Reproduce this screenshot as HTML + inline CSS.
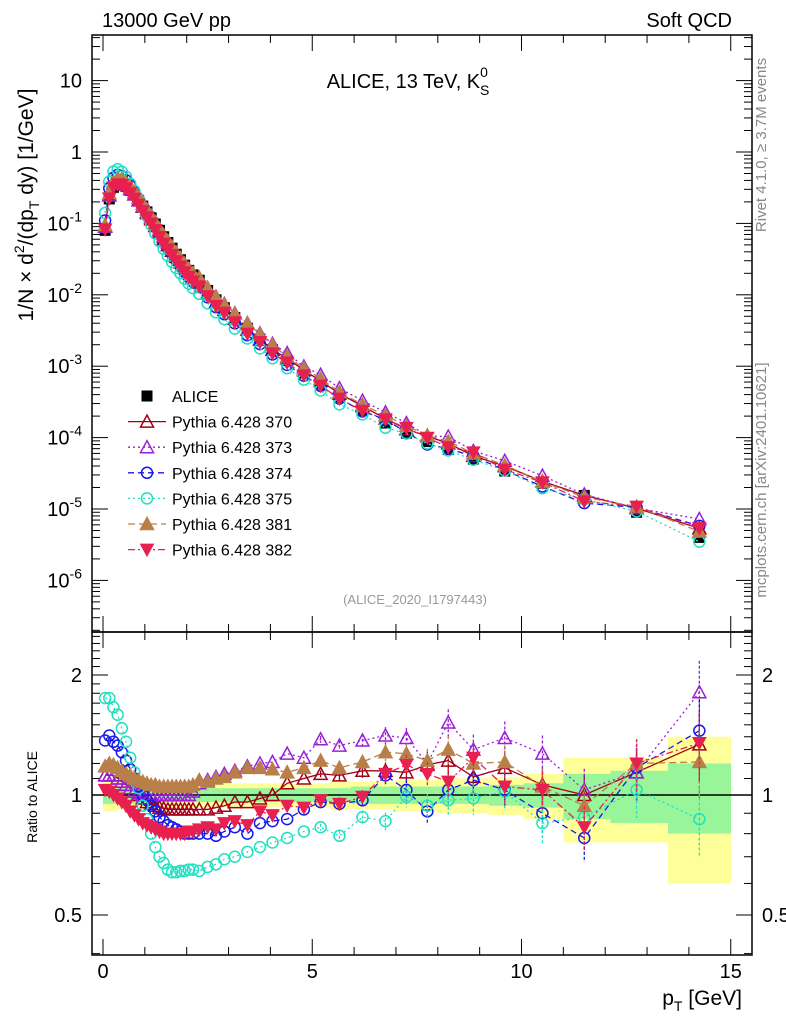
<!DOCTYPE html>
<html><head><meta charset="utf-8"><style>
body{margin:0;background:#fff;}
svg{display:block;font-family:"Liberation Sans",sans-serif;}
</style></head><body>
<svg id="c" width="786" height="1024" xmlns="http://www.w3.org/2000/svg">
<text x="102" y="27" font-size="20">13000 GeV pp</text>
<text x="732" y="27" font-size="20" text-anchor="end">Soft QCD</text>
<text x="408" y="88" font-size="20" text-anchor="middle">ALICE, 13 TeV, K<tspan font-size="14" dy="-11">0</tspan><tspan font-size="14" dx="-8" dy="18">S</tspan></text>
<text transform="translate(766,145) rotate(-90)" font-size="15" fill="#888" text-anchor="middle">Rivet 4.1.0, ≥ 3.7M events</text>
<text transform="translate(766,480) rotate(-90)" font-size="15" fill="#888" text-anchor="middle">mcplots.cern.ch [arXiv:2401.10621]</text>
<text x="415" y="604" font-size="13" fill="#999" text-anchor="middle">(ALICE_2020_I1797443)</text>
<text transform="translate(33,205) rotate(-90)" font-size="21" text-anchor="middle">1/N × d<tspan font-size="14" dy="-9">2</tspan><tspan dy="9">/(dp</tspan><tspan font-size="14" dy="6">T</tspan><tspan dy="-6"> dy) [1/GeV]</tspan></text>
<text transform="translate(37,797) rotate(-90)" font-size="14" text-anchor="middle">Ratio to ALICE</text>
<text x="742" y="1005" font-size="21" text-anchor="end">p<tspan font-size="14" dy="6">T</tspan><tspan dy="-6"> [GeV]</tspan></text>
<g id="bands"></g><g id="axes"></g><g id="series"></g><g id="legend"></g>
</svg>
<script>
const pt=[0.05,0.15,0.25,0.35,0.45,0.55,0.65,0.75,0.85,0.95,1.05,1.15,1.25,1.35,1.45,1.55,1.65,1.75,1.85,1.95,2.05,2.15,2.3,2.5,2.7,2.9,3.15,3.45,3.75,4.05,4.4,4.8,5.2,5.65,6.2,6.75,7.25,7.75,8.25,8.85,9.6,10.5,11.5,12.75,14.25];
const alice=[0.08,0.22,0.32,0.36,0.36,0.33,0.29,0.25,0.21,0.175,0.145,0.12,0.098,0.08,0.065,0.054,0.045,0.037,0.031,0.026,0.022,0.019,0.016,0.0115,0.0085,0.0066,0.0048,0.0034,0.0024,0.0017,0.0012,8e-4,5.5e-4,3.7e-4,2.4e-4,1.6e-4,1.15e-4,8.8e-5,6.8e-5,5e-5,3.4e-5,2.3e-5,1.55e-5,9e-6,4e-6];
const errIn=[0.05,0.05,0.05,0.05,0.05,0.05,0.05,0.05,0.05,0.05,0.04,0.04,0.04,0.04,0.04,0.04,0.04,0.04,0.04,0.04,0.04,0.04,0.04,0.04,0.04,0.04,0.04,0.04,0.04,0.04,0.04,0.04,0.04,0.04,0.05,0.05,0.05,0.05,0.05,0.05,0.06,0.07,0.13,0.15,0.2];
const errOut=[0.09,0.09,0.09,0.08,0.08,0.08,0.08,0.07,0.07,0.07,0.07,0.07,0.07,0.07,0.07,0.07,0.07,0.07,0.07,0.07,0.07,0.07,0.07,0.07,0.07,0.07,0.07,0.07,0.07,0.07,0.07,0.07,0.07,0.08,0.08,0.08,0.09,0.09,0.1,0.1,0.11,0.13,0.24,0.24,0.4];
const mcErr=[0,0,0,0,0,0,0,0,0,0,0,0,0,0,0,0,0,0,0,0,0,0,0,0,0,0,0,0,0,0,0,0,0.02,0.03,0.04,0.05,0.06,0.07,0.08,0.09,0.1,0.11,0.13,0.15,0.2];
const r370=[1.12,1.12,1.12,1.10,1.08,1.06,1.04,1.02,1.0,0.98,0.96,0.95,0.94,0.93,0.925,0.92,0.92,0.92,0.92,0.92,0.92,0.92,0.92,0.92,0.93,0.94,0.96,0.96,0.98,1.0,1.07,1.10,1.13,1.12,1.15,1.15,1.14,1.19,1.22,1.11,1.17,1.06,1.0,1.14,1.34];
const r373=[1.12,1.12,1.12,1.10,1.08,1.06,1.04,1.02,1.01,1.0,1.0,1.0,1.0,1.0,1.0,1.0,1.0,1.0,1.0,1.0,1.0,1.02,1.07,1.09,1.11,1.13,1.15,1.18,1.20,1.21,1.27,1.24,1.38,1.33,1.37,1.41,1.39,1.20,1.52,1.30,1.39,1.27,1.03,1.14,1.81];
const r374=[1.37,1.41,1.36,1.33,1.28,1.22,1.16,1.10,1.05,1.0,0.97,0.94,0.91,0.88,0.86,0.84,0.83,0.82,0.81,0.80,0.80,0.80,0.80,0.80,0.79,0.81,0.83,0.80,0.85,0.86,0.87,0.92,0.96,0.95,0.97,1.12,1.03,0.91,1.03,1.09,1.03,0.90,0.78,1.17,1.45];
const r375=[1.75,1.75,1.66,1.59,1.47,1.36,1.24,1.14,1.04,0.94,0.87,0.80,0.74,0.70,0.675,0.65,0.64,0.64,0.645,0.645,0.65,0.65,0.645,0.66,0.67,0.69,0.70,0.72,0.74,0.76,0.78,0.81,0.83,0.79,0.88,0.86,0.99,0.94,0.97,0.98,1.02,0.85,0.88,1.03,0.87];
const r381=[1.18,1.20,1.19,1.17,1.15,1.13,1.12,1.10,1.09,1.08,1.07,1.06,1.06,1.05,1.05,1.05,1.05,1.05,1.05,1.05,1.05,1.06,1.09,1.08,1.10,1.11,1.14,1.17,1.17,1.16,1.14,1.17,1.22,1.17,1.21,1.28,1.27,1.22,1.30,1.20,1.21,1.05,0.94,1.20,1.21];
const r382=[1.03,1.02,1.0,0.98,0.96,0.94,0.91,0.89,0.87,0.85,0.84,0.83,0.82,0.81,0.80,0.80,0.80,0.80,0.80,0.80,0.81,0.81,0.82,0.83,0.82,0.85,0.86,0.84,0.91,0.89,0.94,0.93,0.97,0.95,0.99,1.13,1.19,1.13,1.08,1.24,1.05,1.03,0.83,1.20,1.35];
const xTicks=[0,5,10,15];
const yTicks=["10","1","10^-1","10^-2","10^-3","10^-4","10^-5","10^-6"];
const rTicks=[0.5,1,2];

const NS="http://www.w3.org/2000/svg";
const L=92,R=752,T1=35,B1=632,B2=955;
const X=v=>103+v*41.85;
const Y=v=>152-71.4*Math.log10(v);
const YR=v=>795-398.6*Math.log10(v);
function mk(p,tag,at){const e=document.createElementNS(NS,tag);for(const k in at)e.setAttribute(k,at[k]);p.appendChild(e);return e;}
const gA=document.getElementById('axes'),gB=document.getElementById('bands'),gS=document.getElementById('series'),gL=document.getElementById('legend');

for(let i=0;i<pt.length;i++){
  const lo=i==0?0:(pt[i-1]+pt[i])/2, hi=i==pt.length-1?15:(pt[i]+pt[i+1])/2;
  const y1=mk(gB,'rect',{x:X(lo),y:YR(1+errOut[i]),width:X(hi)-X(lo)+0.3,height:YR(1-errOut[i])-YR(1+errOut[i]),fill:'#ffff99'});
  
  
  const g1=mk(gB,'rect',{x:X(lo),y:YR(1+errIn[i]),width:X(hi)-X(lo)+0.3,height:YR(1-errIn[i])-YR(1+errIn[i]),fill:'#99f599'});
  
  
}
const f1=mk(gA,'rect',{x:L,y:T1,width:R-L,height:B1-T1,fill:'none',stroke:'#000','stroke-width':1.5});


const f2=mk(gA,'rect',{x:L,y:B1,width:R-L,height:B2-B1,fill:'none',stroke:'#000','stroke-width':1.5});


const one=mk(gA,'line',{x1:L,x2:R,y1:YR(1),y2:YR(1),stroke:'#000','stroke-width':1.5});


for(let v=0;v<=15;v++){
  const len=v%5==0?16:8;
  for(const [yb,d] of [[B2,-1],[B1,-1],[T1,1],[B1,1]]){mk(gA,'line',{x1:X(v),x2:X(v),y1:yb,y2:yb+d*len,stroke:'#000'});}
}
xTicks.forEach(v=>{const t=mk(gA,'text',{x:X(v),y:978,'font-size':20,'text-anchor':'middle'});t.textContent=v;

});
for(let d=-7;d<=1;d++){for(let m=1;m<10;m++){const v=m*Math.pow(10,d);const y=Y(v);if(y<T1||y>B1)continue;const len=m==1?16:8;
 mk(gA,'line',{x1:L,x2:L+len,y1:y,y2:y,stroke:'#000'});mk(gA,'line',{x1:R,x2:R-len,y1:y,y2:y,stroke:'#000'});}}
yTicks.forEach((s,i)=>{const y=Y(Math.pow(10,1-i));const t=mk(gA,'text',{x:82,y:y+7,'font-size':20,'text-anchor':'end'});
 if(s.indexOf('^')>0){const p=s.split('^');t.innerHTML=p[0]+'<tspan font-size="14" dy="-9">'+p[1]+'</tspan>';}else t.textContent=s;
 
 });
for(let k=4;k<=25;k++){const v=k/10;const y=YR(v);if(y<B1||y>B2)continue;const len=(v==0.5||v==1||v==2)?16:8;
 mk(gA,'line',{x1:L,x2:L+len,y1:y,y2:y,stroke:'#000'});mk(gA,'line',{x1:R,x2:R-len,y1:y,y2:y,stroke:'#000'});}
rTicks.forEach(v=>{for(const [x,a] of [[82,'end'],[762,'start']]){const t=mk(gA,'text',{x:x,y:YR(v)+7,'font-size':20,'text-anchor':a});t.textContent=v;
 
 }});

function marker(g,type,x,y,c){
  const s=5.5;
  if(type=='sq')return mk(g,'rect',{x:x-s,y:y-s,width:2*s,height:2*s,fill:c});
  if(type=='circ')return mk(g,'circle',{cx:x,cy:y,r:s,fill:'none',stroke:c,'stroke-width':1.5});
  if(type=='tri'||type=='ftri')return mk(g,'polygon',{points:`${x},${y-s-1} ${x-s-1},${y+s} ${x+s+1},${y+s}`,fill:type=='ftri'?c:'none',stroke:c,'stroke-width':1.5});
  return mk(g,'polygon',{points:`${x},${y+s+1} ${x-s-1},${y-s} ${x+s+1},${y-s}`,fill:c,stroke:c});
}
const series=[
 {name:'Pythia 6.428 370',r:r370,c:'#a00018',m:'tri',d:''},
 {name:'Pythia 6.428 373',r:r373,c:'#9a20d8',m:'tri',d:'2,3'},
 {name:'Pythia 6.428 374',r:r374,c:'#1818e8',m:'circ',d:'6,4'},
 {name:'Pythia 6.428 375',r:r375,c:'#20e0c0',m:'circ',d:'2,3'},
 {name:'Pythia 6.428 381',r:r381,c:'#b88048',m:'ftri',d:'7,4'},
 {name:'Pythia 6.428 382',r:r382,c:'#e82050',m:'dtri',d:'7,3,2,3'}];
const ga=mk(gS,'g',{});


pt.forEach((p,i)=>{marker(ga,'sq',X(p),Y(alice[i]),'#000');});
series.forEach((s,si)=>{
  const g=mk(gS,'g',{});
  
  
  const da={fill:'none',stroke:s.c,'stroke-width':1.3};if(s.d)da['stroke-dasharray']=s.d;
  mk(g,'polyline',Object.assign({points:pt.map((p,i)=>X(p)+','+Y(alice[i]*s.r[i])).join(' ')},da));
  mk(g,'polyline',Object.assign({points:pt.map((p,i)=>X(p)+','+YR(s.r[i])).join(' ')},da));
  pt.forEach((p,i)=>{
    if(mcErr[i]>0){const e=mk(g,'line',{x1:X(p),x2:X(p),y1:YR(s.r[i]*(1+mcErr[i])),y2:YR(s.r[i]*(1-mcErr[i])),stroke:s.c,'stroke-width':1.3});if(s.d)e.setAttribute('stroke-dasharray','3,2');}
    marker(g,s.m,X(p),Y(alice[i]*s.r[i]),s.c);
    marker(g,s.m,X(p),YR(s.r[i]),s.c);
  });
});
const rows=[{name:'ALICE',c:'#000',m:'sq',d:null}].concat(series);
rows.forEach((s,i)=>{const y=396+i*25.6;const g=mk(gL,'g',{});
 
 
 if(s.d!==null){const a={x1:128,x2:166,y1:y,y2:y,stroke:s.c,'stroke-width':1.3};if(s.d)a['stroke-dasharray']=s.d;mk(g,'line',a);}
 marker(g,s.m,147,y,s.c);
 const t=mk(g,'text',{x:172,y:y+6,'font-size':16});t.textContent=s.name;});
</script>
</body></html>
